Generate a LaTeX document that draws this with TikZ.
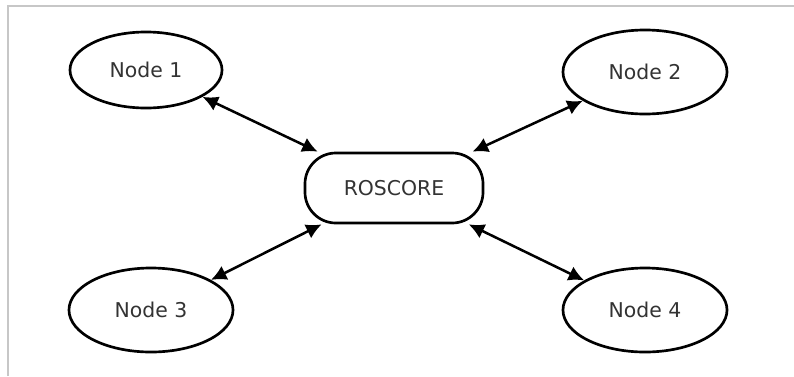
\documentclass[tikz,border=0pt]{standalone}
\usepackage{fontspec}
\setmainfont{DejaVu Sans}
\usepackage{tikz}
\usetikzlibrary{shapes,arrows.meta,calc}

\begin{document}
\begin{tikzpicture}[x=0.025cm,y=-0.025cm, font=\fontsize{14.5}{17}\selectfont,
    rosnode/.style={ellipse,draw,line width=1.9pt,text=black!80,minimum width=4.1cm,minimum height=2.1cm,inner sep=0pt},
    core/.style={rectangle,rounded corners=22pt,draw,line width=1.9pt,text=black!80,minimum width=4.45cm,minimum height=1.75cm},
    link/.style={<->,line width=1.8pt,>={Latex[length=11pt,width=11pt]}}]
    \useasboundingbox (0,0) rectangle (794,376);
    \draw[black!22,line width=1.4pt] (8,376) -- (8,6) -- (794,6);

    \node[core] (ros) at (394,188) {ROSCORE};

    \node[rosnode,minimum width=3.8cm,minimum height=1.9cm] (n1) at (146,70) {Node 1};
    \node[rosnode] (n2) at (645,72) {Node 2};
    \node[rosnode] (n3) at (151,310) {Node 3};
    \node[rosnode] (n4) at (645,310) {Node 4};

    \draw[link] (n1) -- (ros);
    \draw[link] (n2) -- (ros);
    \draw[link] (n3) -- (ros);
    \draw[link] (n4) -- (ros);
  \end{tikzpicture}
\end{document}
